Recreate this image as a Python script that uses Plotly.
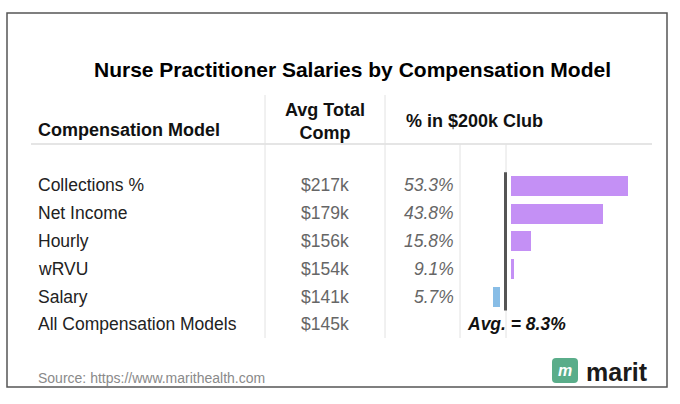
import plotly.graph_objects as go

W, H = 680, 404

# data
models = ["Collections %", "Net Income", "Hourly", "wRVU", "Salary",
          "All Compensation Models"]
avg_comp = ["$217k", "$179k", "$156k", "$154k", "$141k", "$145k"]
pct_200k = [53.3, 43.8, 15.8, 9.1, 5.7]
avg_pct = 8.3

FONT = "Liberation Sans, Arial, Helvetica, sans-serif"
PURPLE = "#c490f5"
BLUE = "#88bde6"
GAP = 2.3  # space (in % units) between the avg line and the bars


def px(x):
    return x / W


def py(y):
    return 1 - y / H


diffs = [round(p - avg_pct, 1) for p in pct_200k]

fig = go.Figure()
fig.add_trace(go.Bar(
    y=models[:5],
    x=diffs,
    base=[GAP if d >= 0 else -GAP for d in diffs],
    orientation="h",
    width=0.72,
    marker=dict(color=[PURPLE if d >= 0 else BLUE for d in diffs], line_width=0),
    hoverinfo="skip",
))

# table lines
shapes = [
    dict(type="rect", xref="paper", yref="paper", x0=px(7), x1=px(667),
         y0=py(13), y1=py(387), line=dict(color="#555", width=1.5)),
    dict(type="line", xref="paper", yref="paper", x0=px(31), x1=px(652),
         y0=py(144), y1=py(144), line=dict(color="#ddd", width=1.5)),
]
for xv, top in [(265, 95), (385, 95), (460, 144), (506, 144)]:
    shapes.append(dict(type="line", xref="paper", yref="paper", x0=px(xv), x1=px(xv),
                       y0=py(top), y1=py(338), line=dict(color="#e2e2e2", width=1)))
# average marker line
shapes.append(dict(type="line", xref="x", yref="y", x0=0, x1=0, y0=-0.48, y1=4.5,
                   line=dict(color="#555", width=3)))
# logo box
x0, x1, y0, y1, r = px(552), px(578), py(358), py(383), 4
rx, ry = r / W, r / H
shapes.append(dict(
    type="path", xref="paper", yref="paper", fillcolor="#5aad8a", line_width=0,
    path=(f"M {x0+rx},{y0} L {x1-rx},{y0} Q {x1},{y0} {x1},{y0-ry} "
          f"L {x1},{y1+ry} Q {x1},{y1} {x1-rx},{y1} L {x0+rx},{y1} "
          f"Q {x0},{y1} {x0},{y1+ry} L {x0},{y0-ry} Q {x0},{y0} {x0+rx},{y0} Z"),
))

ann = []


def text(x, y, s, size=17.5, color="#111", xanchor="left", yref="paper", **kw):
    ann.append(dict(x=x, y=y, xref="paper", yref=yref, text=s, showarrow=False,
                    xanchor=xanchor, yanchor="middle",
                    font=dict(family=FONT, size=size, color=color), **kw))


text(px(352), py(69), "<b>Nurse Practitioner Salaries by Compensation Model</b>",
     size=21, color="#000", xanchor="center")
text(px(36), py(130), "<b>Compensation Model</b>", size=18)
text(px(325), py(121), "<b>Avg Total<br>Comp</b>", size=18, xanchor="center")
text(px(404), py(121), "<b>% in $200k Club</b>", size=18)

for i, m in enumerate(models):
    text(px(36), m, m, color="#222", yref="y")
    text(px(325), m, avg_comp[i], color="#666", xanchor="center", yref="y")
for i, p in enumerate(pct_200k):
    text(px(456), models[i], f"<i>{p:.1f}%</i>", color="#666", xanchor="right", yref="y")
text(px(516), models[5], f"<b><i>Avg. = {avg_pct:.1f}%</i></b>", xanchor="center", yref="y")

text(px(36), py(378), "Source: https://www.marithealth.com", size=14, color="#8a8a8a")
text(px(565), py(370.5), "<b><i>m</i></b>", size=16, color="#fff", xanchor="center")
text(px(584), py(372), "<b>marit</b>", size=25, color="#1a1a1a")

fig.update_layout(
    width=W, height=H,
    margin=dict(l=0, r=0, t=0, b=0),
    paper_bgcolor="white", plot_bgcolor="white",
    showlegend=False,
    bargap=0,
    shapes=shapes,
    annotations=ann,
    xaxis=dict(domain=[px(462), px(660)],
               range=[(462 - 505.5) / 2.58, (660 - 505.5) / 2.58],
               visible=False, fixedrange=True),
    yaxis=dict(domain=[py(338.3), py(171.6)], type="category",
               categoryorder="array", categoryarray=models,
               range=[5.5, -0.5], visible=False, fixedrange=True),
)

fig.write_html("out.html", config={"displayModeBar": False},
               post_script="document.body.style.margin='0';")
